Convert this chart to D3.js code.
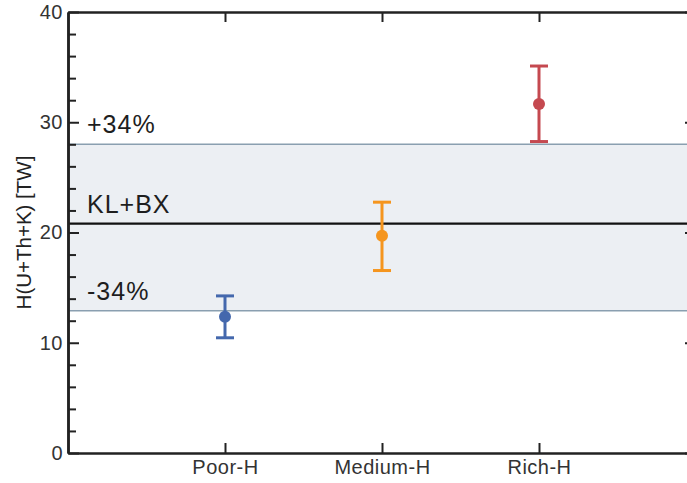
<!DOCTYPE html>
<html>
<head>
<meta charset="utf-8">
<script src="https://cdn.jsdelivr.net/npm/d3@7"></script>
<style>
  body { margin: 0; background: #fff; }
  svg text { font-family: "Liberation Sans", Arial, sans-serif; }
</style>
</head>
<body>
<script>
// data
var categories = ["Poor-H", "Medium-H", "Rich-H"];
var means = [12.35, 19.7, 31.65];
var lows = [10.45, 16.55, 28.25];
var highs = [14.25, 22.75, 35.1];
var colors = ["#4468ad", "#f5951e", "#c54950"];

var refValue = 20.8;       // KL+BX
var bandLow = 12.9;        // -34%
var bandHigh = 28.0;       // +34%
var yMajor = [0, 10, 20, 30, 40];
var yMinor = [2, 4, 6, 8, 12, 14, 16, 18, 22, 24, 26, 28, 32, 34, 36, 38];

var W = 687, H = 483;
var margin = {top: 12, right: -9, bottom: 30, left: 68},
    width = W - margin.left - margin.right,
    height = H - margin.top - margin.bottom;

var svg = d3.select("body").append("svg")
    .attr("width", W)
    .attr("height", H);

var g = svg.append("g")
    .attr("transform", "translate(" + margin.left + "," + margin.top + ")");

var x = d3.scaleLinear().domain([0, 4]).range([0, width]);
var y = d3.scaleLinear().domain([0, 40]).range([height, 0]);

// shaded band
g.append("rect")
    .attr("x", 0)
    .attr("width", width)
    .attr("y", y(bandHigh))
    .attr("height", y(bandLow) - y(bandHigh))
    .attr("fill", "#eceff3");

[bandLow, bandHigh].forEach(function(v) {
  g.append("line")
      .attr("x1", 0).attr("x2", width)
      .attr("y1", y(v)).attr("y2", y(v))
      .attr("stroke", "#8a9fb0")
      .attr("stroke-width", 1.5);
});

g.append("line")
    .attr("x1", 0).attr("x2", width)
    .attr("y1", y(refValue)).attr("y2", y(refValue))
    .attr("stroke", "#111")
    .attr("stroke-width", 2.2);

// band labels
var labels = [
  {text: "+34%", v: bandHigh, dy: -11},
  {text: "KL+BX", v: refValue, dy: -11},
  {text: "-34%", v: bandLow, dy: -11}
];
g.selectAll(".bandlabel")
  .data(labels).enter()
  .append("text")
    .attr("class", "bandlabel")
    .attr("x", 19)
    .attr("y", function(d) { return y(d.v) + d.dy; })
    .style("font-size", "25px")
    .style("letter-spacing", "1px")
    .style("fill", "#1e1e1e")
    .text(function(d) { return d.text; });

// axes
function styleAxis(sel) {
  sel.select(".domain").attr("stroke", "#222").attr("stroke-width", 2.5);
  sel.selectAll(".tick line").attr("stroke", "#222").attr("stroke-width", 2);
  sel.selectAll(".tick text")
    .style("font-size", "20px")
    .style("letter-spacing", "0.5px")
    .style("fill", "#333");
}

var yAxis = g.append("g")
    .call(d3.axisLeft(y).tickValues(yMajor).tickSize(-11).tickPadding(5).tickSizeOuter(0));
styleAxis(yAxis);
g.append("g")
    .call(d3.axisLeft(y).tickValues(yMinor).tickSize(-8).tickFormat("").tickSizeOuter(0))
    .call(styleAxis);

g.append("g")
    .attr("transform", "translate(" + width + ",0)")
    .call(d3.axisRight(y).tickValues(yMajor).tickSize(-11).tickFormat("").tickSizeOuter(0))
    .call(styleAxis);
g.append("g")
    .attr("transform", "translate(" + width + ",0)")
    .call(d3.axisRight(y).tickValues(yMinor).tickSize(-8).tickFormat("").tickSizeOuter(0))
    .call(styleAxis);

var xAxis = g.append("g")
    .attr("transform", "translate(0," + height + ")")
    .call(d3.axisBottom(x).tickValues([1, 2, 3]).tickSize(-10).tickPadding(7).tickSizeOuter(0)
      .tickFormat(function(d) { return categories[d - 1]; }));
styleAxis(xAxis);

g.append("g")
    .call(d3.axisTop(x).tickValues([1, 2, 3]).tickSize(-10).tickFormat("").tickSizeOuter(0))
    .call(styleAxis);

// y title
g.append("text")
    .attr("transform", "rotate(-90)")
    .attr("x", -height / 2)
    .attr("y", -37)
    .attr("text-anchor", "middle")
    .style("font-size", "20.5px")
    .style("fill", "#222")
    .text("H(U+Th+K) [TW]");

// error bars
var pts = categories.map(function(c, i) {
  return {pos: i + 1, mean: means[i], lo: lows[i], hi: highs[i], color: colors[i]};
});

var eb = g.selectAll(".eb").data(pts).enter().append("g").attr("class", "eb");
eb.append("line")
    .attr("x1", function(d) { return x(d.pos); })
    .attr("x2", function(d) { return x(d.pos); })
    .attr("y1", function(d) { return y(d.lo); })
    .attr("y2", function(d) { return y(d.hi); })
    .attr("stroke", function(d) { return d.color; })
    .attr("stroke-width", 3);
["lo", "hi"].forEach(function(k) {
  eb.append("line")
      .attr("x1", function(d) { return x(d.pos) - 9; })
      .attr("x2", function(d) { return x(d.pos) + 9; })
      .attr("y1", function(d) { return y(d[k]); })
      .attr("y2", function(d) { return y(d[k]); })
      .attr("stroke", function(d) { return d.color; })
      .attr("stroke-width", 3);
});
eb.append("circle")
    .attr("cx", function(d) { return x(d.pos); })
    .attr("cy", function(d) { return y(d.mean); })
    .attr("r", 6)
    .attr("fill", function(d) { return d.color; });
</script>
</body>
</html>
